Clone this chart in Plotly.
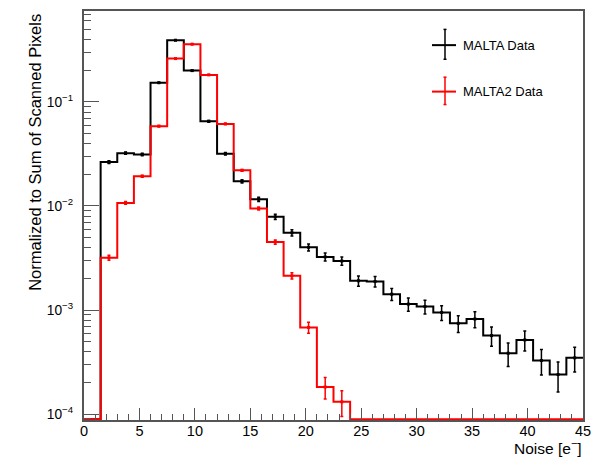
import plotly.graph_objects as go

# ---------------- data ----------------
x_min = 0.0
bin_width = 1.5
n_bins = 30
x_ticks = [0, 5, 10, 15, 20, 25, 30, 35, 40, 45]

malta = [0, 0.0264, 0.0322, 0.0313, 0.153, 0.392, 0.200, 0.0652, 0.0318, 0.01726,
         0.0116, 0.00787, 0.00553, 0.00401, 0.00324, 0.00296, 0.00191, 0.00188,
         0.00142, 0.00114, 0.00108, 0.000948, 0.000745, 0.00082, 0.000568,
         0.000385, 0.000516, 0.000327, 0.00024, 0.000347]
malta_relerr = [0, 0.029, 0.026, 0.027, 0.012, 0.008, 0.011, 0.019, 0.028, 0.038,
                0.046, 0.056, 0.067, 0.078, 0.088, 0.092, 0.114, 0.115, 0.132,
                0.147, 0.152, 0.162, 0.183, 0.174, 0.209, 0.254, 0.219, 0.275,
                0.321, 0.267]

malta2 = [0, 0.00318, 0.0107, 0.0193, 0.0585, 0.261, 0.359, 0.182, 0.0615, 0.022,
          0.00946, 0.00451, 0.00213, 0.000681, 0.000182, 0.000131, 0, 0, 0, 0,
          0, 0, 0, 0, 0, 0, 0, 0, 0, 0]
malta2_relerr = [0, 0.056, 0.031, 0.023, 0.013, 0.006, 0.005, 0.007, 0.013, 0.021,
                 0.033, 0.047, 0.069, 0.121, 0.234, 0.276, 0, 0, 0, 0,
                 0, 0, 0, 0, 0, 0, 0, 0, 0, 0]

series_names = ["MALTA Data", "MALTA2 Data"]
series_colors = ["#000000", "#ff0000"]

# ---------------- layout constants ----------------
W, H = 610, 457
ML, MR, MT, MB = 84, 27, 9, 37
PW, PH = W - ML - MR, H - MT - MB
YLOG_MIN, YLOG_MAX = -4.057, -0.126
FLOOR = 10 ** (YLOG_MIN + 0.008)
FONT = "Liberation Sans, Arial, Helvetica, sans-serif"
AXC = "#555555"

edges = [x_min + i * bin_width for i in range(n_bins + 1)]
centers = [x_min + (i + 0.5) * bin_width for i in range(n_bins)]


def px(xp):
    return (xp - ML) / PW


def py(yp):
    return (H - MB - yp) / PH


fig = go.Figure()

for vals, rel, color, name in [(malta, malta_relerr, series_colors[0], series_names[0]),
                               (malta2, malta2_relerr, series_colors[1], series_names[1])]:
    step_y = [v if v > 0 else FLOOR for v in vals]
    fig.add_trace(go.Scatter(
        x=edges, y=step_y + [step_y[-1]], mode="lines",
        line=dict(color=color, width=2, shape="hv"),
        showlegend=False, name=name, hoverinfo="skip"))
    cx = [c for c, v in zip(centers, vals) if v > 0]
    cy = [v for v in vals if v > 0]
    ce = [v * r for v, r in zip(vals, rel) if v > 0]
    fig.add_trace(go.Scatter(
        x=cx, y=cy, mode="markers",
        marker=dict(symbol="square", size=3, color=color),
        error_y=dict(type="data", array=ce, visible=True, color=color,
                     thickness=1.5, width=1.5),
        showlegend=False, name=name))

# legend drawn manually (ROOT style cross with error bars)
shapes = []
annotations = []
for (yc, y0, y1), color, name in zip([(43.3, 27.5, 57.5), (90, 75.5, 103)],
                                     series_colors, series_names):
    shapes.append(dict(type="line", xref="paper", yref="paper",
                       x0=px(432), x1=px(456), y0=py(yc), y1=py(yc),
                       line=dict(color=color, width=2)))
    shapes.append(dict(type="line", xref="paper", yref="paper",
                       x0=px(445), x1=px(445), y0=py(y0), y1=py(y1),
                       line=dict(color=color, width=1.5)))
    for ye in (y0, y1):
        shapes.append(dict(type="line", xref="paper", yref="paper",
                           x0=px(443.5), x1=px(446.5), y0=py(ye), y1=py(ye),
                           line=dict(color=color, width=1.5)))
    annotations.append(dict(xref="paper", yref="paper", x=px(461), y=py(yc),
                            xanchor="left", yanchor="middle", showarrow=False,
                            text=name, font=dict(family=FONT, size=13, color="#000")))

annotations.append(dict(xref="paper", yref="paper", x=px(35), y=py(151.5),
                        xanchor="center", yanchor="middle", showarrow=False,
                        textangle=-90, text="Normalized to Sum of Scanned Pixels",
                        font=dict(family=FONT, size=16.5, color="#000")))
annotations.append(dict(xref="paper", yref="paper", x=px(583), y=py(447),
                        xanchor="right", yanchor="middle", showarrow=False,
                        borderpad=0,
                        text="Noise [e<sup>−</sup>]",
                        font=dict(family=FONT, size=15.5, color="#000")))

fig.update_layout(
    width=W, height=H, margin=dict(l=ML, r=MR, t=MT, b=MB, pad=0),
    paper_bgcolor="white", plot_bgcolor="white",
    showlegend=False, shapes=shapes, annotations=annotations,
    xaxis=dict(range=[x_ticks[0], x_ticks[-1]], tickvals=x_ticks,
               ticks="inside", ticklen=12, tickwidth=1, tickcolor=AXC,
               minor=dict(ticks="inside", ticklen=6, dtick=1, tickcolor=AXC, tickwidth=1),
               showline=True, linecolor=AXC, linewidth=1.5, mirror=True,
               showgrid=False, zeroline=False, ticklabelstandoff=-3,
               tickfont=dict(family=FONT, size=14.5, color="#000")),
    yaxis=dict(type="log", range=[YLOG_MIN, YLOG_MAX], dtick=1,
               exponentformat="power",
               ticks="inside", ticklen=15, tickwidth=1, tickcolor=AXC,
               minor=dict(ticks="inside", ticklen=7, dtick="D1", tickcolor=AXC, tickwidth=1),
               showline=True, linecolor=AXC, linewidth=1.5, mirror=True,
               showgrid=False, zeroline=False, ticklabelstandoff=7,
               tickfont=dict(family=FONT, size=11, color="#000")),
)

fig.write_html("out.html", config={"displayModeBar": False},
               post_script="document.body.style.margin='0';document.body.style.overflow='hidden';")
